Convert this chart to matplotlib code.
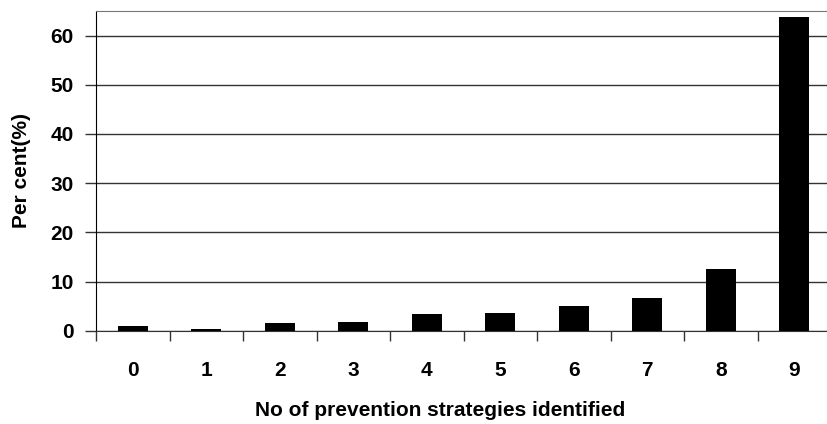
import matplotlib
matplotlib.use("Agg")
import matplotlib.pyplot as plt
import numpy as np

plt.rcParams['font.family'] = ['Liberation Sans', 'DejaVu Sans']
plt.rcParams['font.weight'] = 'bold'

categories = ['0', '1', '2', '3', '4', '5', '6', '7', '8', '9']
percent = [1.0, 0.4, 1.5, 1.7, 3.3, 3.7, 5.1, 6.7, 12.5, 63.7]
y_ticks = [0, 10, 20, 30, 40, 50, 60]

fig = plt.figure(figsize=(8.27, 4.24), dpi=100)
ax = fig.add_axes([96 / 827, 1 - 330.7 / 424, 735 / 827, 319.7 / 424])

x = np.arange(len(categories))
ax.bar(x, percent, width=0.41, color='black', zorder=3)

ax.set_xlim(-0.5, len(categories) - 0.5)
ax.set_ylim(0, 65)

# gridlines at the major y ticks
ax.set_yticks(y_ticks)
ax.yaxis.grid(True, color='#333333', linewidth=1.0, zorder=0)

# category ticks sit between the bars
ax.set_xticks(np.arange(len(categories) + 1) - 0.5, minor=False)
ax.set_xticklabels([])
ax.set_xticks(x, minor=True)
ax.set_xticklabels(categories, minor=True)
ax.tick_params(axis='x', which='major', direction='out', length=7, width=1, color='#333333')
ax.tick_params(axis='x', which='minor', length=0, pad=22, labelsize=15)
ax.tick_params(axis='y', direction='out', length=8, width=1, color='#333333', pad=8, labelsize=15)

ax.spines['right'].set_visible(False)
ax.spines['top'].set_color('#777777')
ax.spines['left'].set_color('black')
ax.spines['bottom'].set_color('#333333')

ax.set_xlabel('No of prevention strategies identified', fontsize=15, fontweight='bold', va='center')
ax.xaxis.set_label_coords((440 - 96) / 735, -(411 - 330.7) / 319.7)
ax.set_ylabel('Per cent(%)', fontsize=15, fontweight='bold', va='center')
ax.yaxis.set_label_coords(-(96 - 22) / 735, 0.5)

fig.savefig('out.png', dpi=100)
